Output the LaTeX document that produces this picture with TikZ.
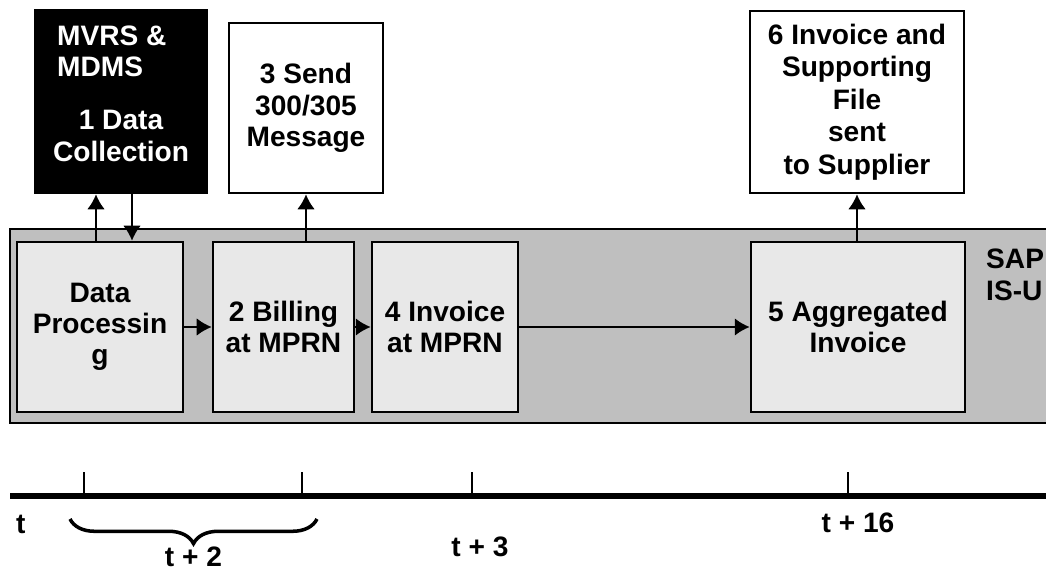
\documentclass[tikz,border=0pt]{standalone}
\usepackage{fontspec}
\setmainfont{Liberation Sans}
\usetikzlibrary{arrows.meta,calc,decorations.pathreplacing,positioning}
\newcommand{\pxu}{0.02cm}
\colorlet{sapgray}{black!25}
\colorlet{stagegray}{black!9}
\tikzset{
    txtsty/.style={font=\bfseries\fontsize{16}{17.8}\selectfont, align=center},
    boxsty/.style={draw, line width=1.5pt, inner sep=0pt, txtsty},
    stagesty/.style={boxsty, fill=stagegray, minimum height=170*\pxu},
    extsty/.style={boxsty, fill=white},
    blksty/.style={boxsty, fill=black, text=white},
    sapsty/.style={draw, line width=1.5pt, fill=sapgray},
    flowsty/.style={->, line width=1.1pt},
    axissty/.style={line width=3.6pt},
    ticksty/.style={line width=0.7pt},
    bracesty/.style={decorate, decoration={brace, mirror, amplitude=14pt}, line width=2pt},
    namesty/.style={txtsty, pos=0.5, below=11.5pt},
}

\begin{document}
\begin{tikzpicture}[x=\pxu, y=-\pxu, >={Latex[length=8.5pt,width=10pt]}]
\useasboundingbox (0,0) rectangle (1046,571);

% SAP IS-U frame
\draw[sapsty] (10,229) rectangle (1056,423);
\node[txtsty, align=left, anchor=north west] (sapl) at (980,243) {SAP\\IS-U};

% stages inside SAP
\node[stagesty, minimum width=166*\pxu] (proc) at (100,327) {Data\\Processin\\g};
\node[stagesty, minimum width=141*\pxu] (bill) at (283.5,327) {2 Billing\\at MPRN};
\node[stagesty, minimum width=146*\pxu] (inv) at (445,327) {4 Invoice\\at MPRN};
\node[stagesty, minimum width=214*\pxu] (aggr) at (858,327) {5 Aggregated\\Invoice};

% outside boxes
\node[blksty, minimum width=172*\pxu, minimum height=183*\pxu] (coll) at (121,101.5) {};
\node[txtsty, text=white, align=left, anchor=west] (collsrc) at (51,51) {MVRS \&\\MDMS};
\node[txtsty, text=white] (colltask) at (121,136) {1 Data\\Collection};
\node[extsty, minimum width=154*\pxu, minimum height=170*\pxu] (send) at (306,108) {3 Send\\300/305\\Message};
\node[extsty, minimum width=214*\pxu, minimum height=182*\pxu,
      font=\bfseries\fontsize{16}{18.5}\selectfont] (supp) at (857,102)
  {6 Invoice and\\Supporting\\File\\sent\\to Supplier};

% flows
\coordinate (upA) at ($(coll.south)+(-25,0)$);
\coordinate (dnA) at ($(coll.south)+(11,0)$);
\draw[flowsty] (upA |- proc.north) -- (upA);
\draw[flowsty] (dnA) -- (dnA |- proc.north);
\draw[flowsty] (send.south |- bill.north) -- (send.south);
\draw[flowsty] (proc) -- (bill);
\draw[flowsty] (bill) -- (inv);
\draw[flowsty] (inv) -- (aggr);
\draw[flowsty] (supp.south |- aggr.north) -- (supp.south);

% time line
\coordinate (tl0) at (10,496);
\coordinate (tl1) at (1046,496);
\draw[axissty] (tl0) -- (tl1);
\foreach \xx in {84,302,472,848}
  \draw[ticksty] (\xx,472) -- (\xx,496);
\node[txtsty, anchor=west] (tz) at (10,524) {t};
\node[txtsty] (t16) at (858,523) {t + 16};
\node[txtsty] (t3) at (480,547) {t + 3};
\draw[bracesty] (70,519) -- (317,519) node[namesty] (t2) {t + 2};

\end{tikzpicture}
\end{document}
